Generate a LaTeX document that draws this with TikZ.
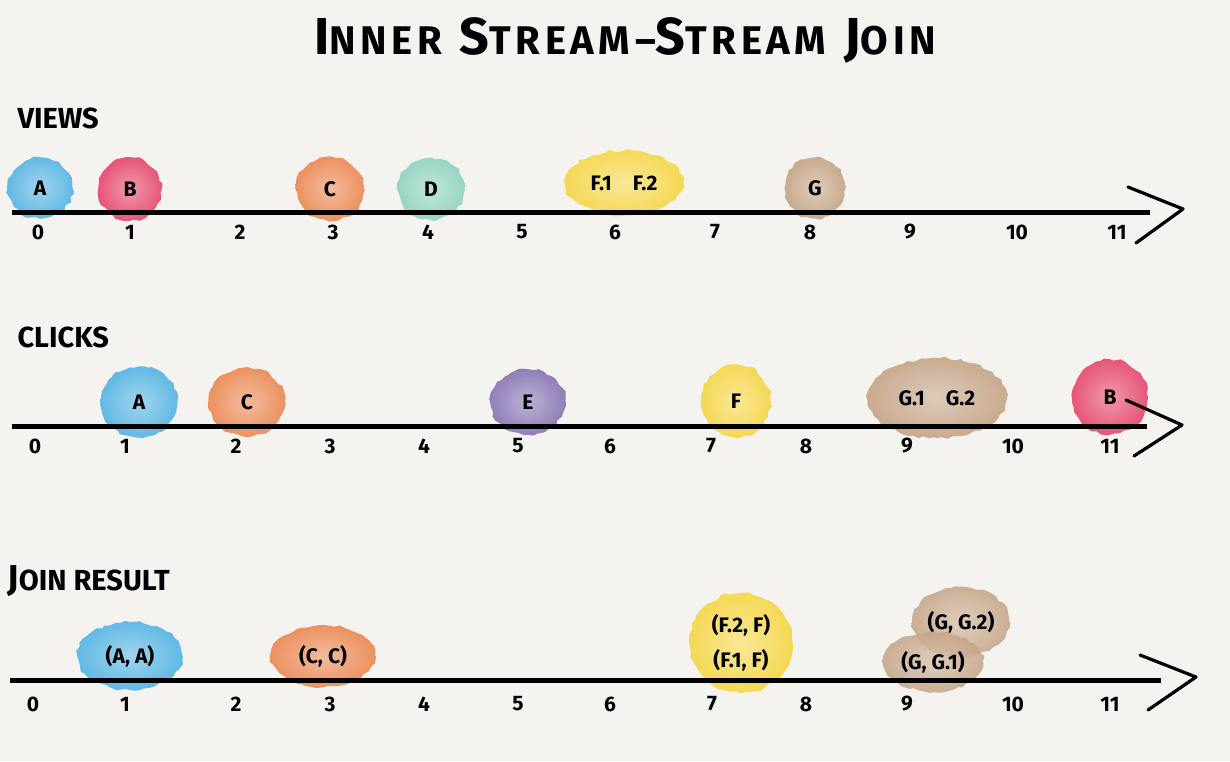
\documentclass[tikz,border=0pt]{standalone}
\usepackage{fontspec}
\setmainfont{Fira Sans}
\usetikzlibrary{shapes.geometric,decorations.pathmorphing}
\definecolor{paper}{HTML}{F4F3F0}
\definecolor{ablue}{HTML}{52B3E3}
\definecolor{bred}{HTML}{E6446A}
\definecolor{corange}{HTML}{EC8650}
\definecolor{dteal}{HTML}{8ED2BE}
\definecolor{epurple}{HTML}{8672B2}
\definecolor{fyellow}{HTML}{F6D644}
\definecolor{gtan}{HTML}{C4A384}
\newcommand{\fs}[1]{\fontsize{#1}{#1}\selectfont}

\begin{document}
\begin{tikzpicture}
  [x=1pt,y=-1pt,every node/.style={font=\bfseries\fs{21}},
   blob/.style={ellipse,inner sep=0pt,shading=radial,inner color=#1!60!white,outer color=#1,
     fill opacity=.9,text opacity=1,decorate,decoration={random steps,segment length=5pt,amplitude=1.5pt}}]
  \tikzstyle{axis} = [line width=5pt]
  \tikzstyle{chev} = [line width=3.2pt,line cap=round,line join=round]
  \tikzstyle{num} = [font=\bfseries\fs{21}]
  \tikzstyle{row} = [anchor=west,font=\bfseries\fs{29}]
  \pgfmathsetseed{7}
  \fill[paper] (0,0) rectangle (1230,761);

  \node[font=\bfseries\addfontfeature{LetterSpace=11.5}] (title) at (625,40)
    {{\fs{52}I}{\fs{40}NNER}\hspace{18pt}{\fs{52}S}{\fs{40}TREAM--}{\fs{52}S}{\fs{40}TREAM}\hspace{18pt}{\fs{52}J}{\fs{40}OIN}};

  % views
  \node[row] (views) at (14,118) {VIEWS};
  \node[blob=ablue,minimum width=65,minimum height=61] (vA) at (40,188) {A};
  \node[blob=bred,minimum width=63,minimum height=63] (vB) at (130,189) {B};
  \node[blob=corange,minimum width=68,minimum height=64] (vC) at (330,189) {C};
  \node[blob=dteal,minimum width=67,minimum height=62] (vD) at (431,189) {D};
  \node[blob=fyellow,minimum width=118,minimum height=65] (vF) at (624,183) {F.1\quad F.2};
  \node[blob=gtan,minimum width=61,minimum height=61] (vG) at (815,188) {G};
  \coordinate (v0) at (12,212);
  \coordinate (v1) at (1150,212);
  \coordinate (vt) at (1183,209);
  \draw[axis] (v0) -- (v1);
  \draw[chev] (vt) ++(-55,-22) -- (vt) -- ++(-47,34);
  \foreach \n/\x in {0/38,1/130,2/240,3/333,4/428,5/522,6/615,7/715,8/810,9/910,10/1017,11/1117}
    \node[num] (vn\n) at (\x,232) {\n};

  % clicks
  \node[row] (clicks) at (14,337) {CLICKS};
  \node[blob=ablue,minimum width=77,minimum height=71] (cA) at (139,402) {A};
  \node[blob=corange,minimum width=76,minimum height=69] (cC) at (247,402) {C};
  \node[blob=epurple,minimum width=75,minimum height=65] (cE) at (528,402) {E};
  \node[blob=fyellow,minimum width=69,minimum height=73] (cF) at (736,401) {F};
  \node[blob=gtan,minimum width=140,minimum height=80] (cG) at (937,398) {G.1\quad G.2};
  \node[blob=bred,minimum width=76,minimum height=75] (cB) at (1110,397) {B};
  \coordinate (c0) at (12,426);
  \coordinate (c1) at (1147,426);
  \coordinate (ct) at (1182,425);
  \draw[axis] (c0) -- (c1);
  \draw[chev] (ct) ++(-56,-25) -- (ct) -- ++(-48,31);
  \foreach \n/\x in {0/35,1/125,2/236,3/330,4/424,5/518,6/610,7/711,8/806,9/907,10/1013,11/1110}
    \node[num] (cn\n) at (\x,446) {\n};

  % join result
  \node[row] (join) at (4,581) {{\fs{36}J}OIN RESULT};
  \node[blob=ablue,minimum width=105,minimum height=68] (jA) at (130,656) {(A, A)};
  \node[blob=corange,minimum width=104,minimum height=62] (jC) at (323,656) {(C, C)};
  \node[blob=fyellow,minimum width=103,minimum height=100,align=center,font=\bfseries\fontsize{21}{35}\selectfont] (jF) at (741,643) {(F.2, F)\\(F.1, F)};
  \node[blob=gtan,fill opacity=.85,minimum width=97,minimum height=70] (jG2) at (961,622) {(G, G.2)};
  \node[blob=gtan,fill opacity=.85,minimum width=100,minimum height=60] (jG1) at (933,662) {(G, G.1)};
  \coordinate (j0) at (10,680);
  \coordinate (j1) at (1161,680);
  \coordinate (jt) at (1196,677);
  \draw[axis] (j0) -- (j1);
  \draw[chev] (jt) ++(-56,-22) -- (jt) -- ++(-48,33);
  \foreach \n/\x in {0/33,1/125,2/236,3/330,4/424,5/518,6/610,7/712,8/806,9/907,10/1013,11/1110}
    \node[num] (jn\n) at (\x,704) {\n};
\end{tikzpicture}
\end{document}
